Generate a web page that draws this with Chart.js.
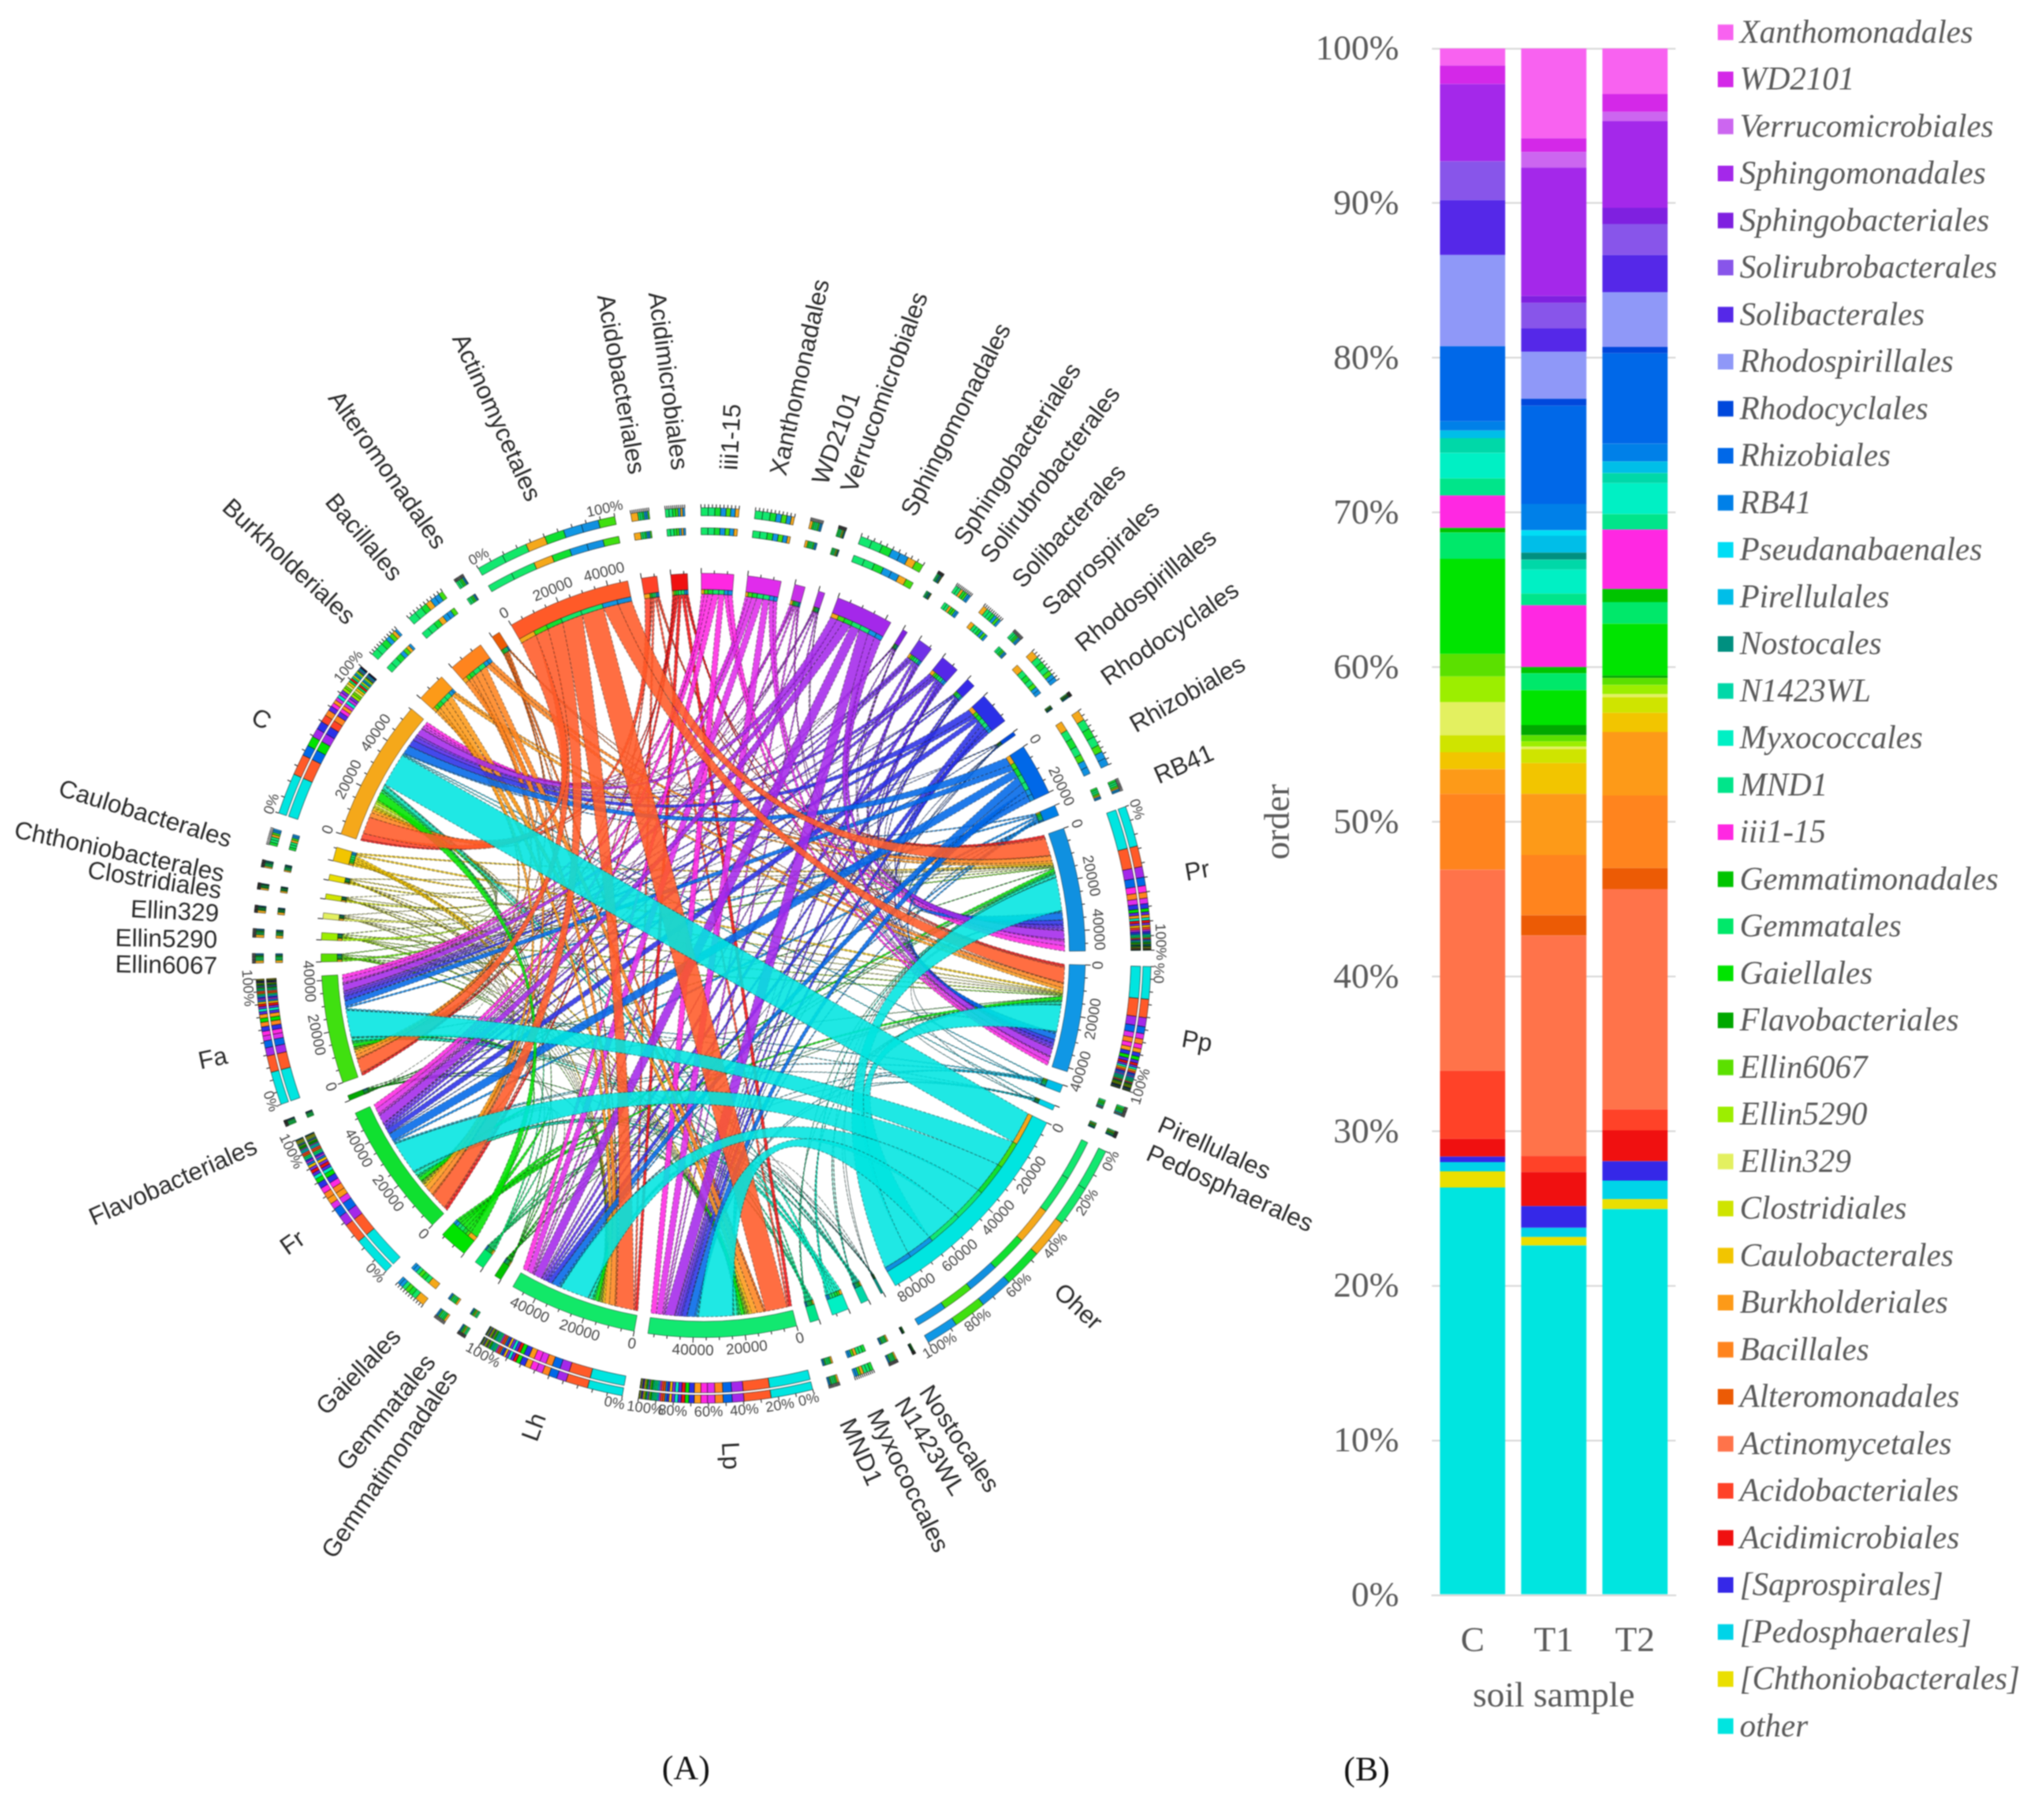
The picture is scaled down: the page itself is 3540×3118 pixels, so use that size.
<!DOCTYPE html>
<html>
<head>
<meta charset="utf-8">
<title>Order composition of soil samples</title>
<script src="https://cdn.jsdelivr.net/npm/chart.js@4/dist/chart.umd.js"></script>
<style>
  html, body { margin: 0; background: #fff; overflow: hidden; }
  body { width: 3540px; height: 3118px; position: relative; }
  canvas { position: absolute; top: 0; filter: blur(1px); }
  #circos { left: 0; }
  #bars { left: 2150px; }
</style>
</head>
<body>
<canvas id="circos" width="2340" height="3118"></canvas>
<canvas id="bars" width="1390" height="3118"></canvas>
<script>
// ---------- panel B: stacked bars ----------
const barSamples = ['C', 'T1', 'T2'];
const seriesNames = ['other', '[Chthoniobacterales]', '[Pedosphaerales]', '[Saprospirales]', 'Acidimicrobiales', 'Acidobacteriales', 'Actinomycetales', 'Alteromonadales', 'Bacillales', 'Burkholderiales', 'Caulobacterales', 'Clostridiales', 'Ellin329', 'Ellin5290', 'Ellin6067', 'Flavobacteriales', 'Gaiellales', 'Gemmatales', 'Gemmatimonadales', 'iii1-15', 'MND1', 'Myxococcales', 'N1423WL', 'Nostocales', 'Pirellulales', 'Pseudanabaenales', 'RB41', 'Rhizobiales', 'Rhodocyclales', 'Rhodospirillales', 'Solibacterales', 'Solirubrobacterales', 'Sphingobacteriales', 'Sphingomonadales', 'Verrucomicrobiales', 'WD2101', 'Xanthomonadales'];
const valuesC = [26.35, 1.05, 0.6, 0.35, 1.15, 4.4, 13.0, 0, 4.9, 1.6, 1.1, 1.1, 2.15, 1.65, 1.45, 0, 6.15, 1.7, 0.3, 2.1, 1.1, 1.65, 0.95, 0, 0.5, 0, 0.6, 4.85, 0, 5.9, 3.55, 2.5, 0, 5.0, 0, 1.2, 1.1];
const valuesT1 = [22.6, 0.55, 0.6, 1.4, 2.2, 1.05, 14.25, 1.3, 3.9, 3.95, 2.0, 0.9, 0.15, 0.35, 0.4, 0.65, 2.25, 1.1, 0.4, 4.0, 0.75, 1.55, 0.65, 0.45, 1.1, 0.35, 1.7, 6.35, 0.45, 3.05, 1.5, 1.65, 0.45, 8.3, 1.0, 0.9, 5.8];
const valuesT2 = [24.95, 0.65, 1.2, 1.25, 2.0, 1.35, 14.25, 1.35, 4.7, 4.1, 1.25, 1.0, 0.2, 0.6, 0.45, 0.15, 3.35, 1.4, 0.85, 3.85, 1.0, 2.0, 0.65, 0, 0.75, 0, 1.15, 5.85, 0.4, 3.55, 2.4, 2.0, 1.05, 5.6, 0.6, 1.15, 2.95];
const seriesColors = ['#00E5E0', '#EADF00', '#00D4E8', '#3528E8', '#F01010', '#FF4228', '#FF734A', '#EC5B05', '#FF841E', '#FD9A18', '#F2C500', '#CFE400', '#E3F060', '#9CEE00', '#5BE000', '#00A800', '#00E400', '#00E86A', '#00C400', '#FF28E2', '#00E58A', '#00F0C4', '#00D8A8', '#009080', '#00BEE8', '#00DDF5', '#0080E8', '#0068E8', '#0048DC', '#8F98F8', '#5528E8', '#8855EA', '#7F20E0', '#A428EA', '#CC66F0', '#D428E8', '#F862F0'];

// ---------- panel A: chord diagram, sectors clockwise ----------
const sectorNames = ['iii1-15', 'Xanthomonadales', 'WD2101', 'Verrucomicrobiales', 'Sphingomonadales', 'Sphingobacteriales', 'Solirubrobacterales', 'Solibacterales', 'Saprospirales', 'Rhodospirillales', 'Rhodocyclales', 'Rhizobiales', 'RB41', 'Pr', 'Pp', 'Pirellulales', 'Pedosphaerales', 'Oher', 'Nostocales', 'N1423WL', 'Myxococcales', 'MND1', 'Lp', 'Lh', 'Gemmatimonadales', 'Gemmatales', 'Gaiellales', 'Fr', 'Flavobacteriales', 'Fa', 'Ellin6067', 'Ellin5290', 'Ellin329', 'Clostridiales', 'Chthoniobacterales', 'Caulobacterales', 'C', 'Burkholderiales', 'Bacillales', 'Alteromonadales', 'Actinomycetales', 'Acidobacteriales', 'Acidimicrobiales'];
const sectorReads = [12500, 13000, 4100, 2550, 22400, 2000, 5900, 7400, 3600, 12500, 1500, 20200, 4100, 47900, 41600, 3100, 2000, 86400, 1000, 3100, 6600, 3600, 57400, 49700, 2800, 3800, 11000, 52300, 2000, 41800, 3100, 2800, 2300, 2000, 2300, 5400, 55300, 11500, 14000, 3300, 47900, 6000, 6400];
const sampleNames = ['C', 'Fa', 'Fr', 'Lh', 'Lp', 'Pp', 'Pr'];
const sampleColors = ['#F5A81A', '#40E010', '#10E030', '#12E868', '#12E870', '#1097E5', '#1090E0'];

// reads per order (order = sectorNames without the samples)
const linkC = [1200, 1000, 900, 300, 2800, 150, 900, 1500, 100, 2600, 200, 3300, 500, 300, 300, 13000, 100, 500, 1000, 600, 400, 700, 3200, 50, 800, 900, 800, 600, 500, 800, 1100, 1900, 50, 6600, 2300, 700];
const linkFa = [1500, 1700, 500, 300, 2700, 250, 800, 900, 500, 1500, 200, 2300, 600, 500, 300, 11000, 200, 400, 900, 400, 400, 500, 1300, 300, 300, 300, 200, 200, 200, 700, 1300, 1500, 500, 5500, 500, 800];
const linkFr = [1900, 2000, 600, 400, 3400, 300, 900, 1000, 600, 1900, 200, 3000, 700, 500, 300, 13000, 200, 500, 1100, 600, 400, 600, 1500, 400, 400, 300, 300, 300, 300, 900, 2000, 2000, 600, 6500, 600, 1000];
const linkLh = [2400, 2500, 600, 400, 3700, 350, 1000, 1100, 700, 2100, 200, 3200, 700, 500, 300, 13500, 200, 500, 1100, 600, 500, 600, 1600, 400, 500, 400, 300, 300, 400, 900, 2200, 2600, 700, 8500, 700, 1200];
const linkLp = [2200, 2500, 600, 400, 3900, 350, 1000, 1100, 700, 1800, 300, 3000, 700, 600, 400, 14000, 100, 500, 1100, 600, 500, 600, 1300, 400, 500, 400, 300, 300, 400, 900, 2200, 2700, 700, 9000, 700, 1200];
const linkPp = [1500, 1800, 400, 200, 3000, 300, 700, 1000, 500, 1300, 200, 2300, 500, 400, 200, 10800, 100, 400, 700, 400, 300, 400, 1200, 250, 300, 300, 200, 150, 300, 600, 1400, 1700, 400, 6100, 600, 800];
const linkPr = [1800, 1500, 500, 150, 2900, 300, 600, 800, 500, 1300, 200, 2300, 400, 300, 200, 11100, 100, 300, 700, 400, 300, 400, 900, 200, 300, 200, 200, 150, 200, 600, 800, 1600, 350, 5700, 600, 700];

// name placement around the circle: angle clockwise from the top, text rotation
const labelDeg = [3.2, 9, 14, 17.5, 25, 32, 35.7, 40.3, 45, 50.7, 55.6, 62, 68.6, 80.4, 100, 110.4, 114, 133.3, 153, 156.2, 159.6, 163, 177, 199.6, 211, 214, 219, 234.9, 246.9, 258, 268.6, 271.7, 274.8, 277.5, 279.5, 283.6, 298, 313.5, 320.9, 327.2, 339.5, 352, 357.1];
const labelRot = [-87, -77.5, -70, -70, -63, -57, -53, -48, -44, -40, -35, -30, -24, -10, 10, 24, 24, 43, 56, 58, 64, 66, 87, -70, -56, -51, -46, -35, -24, -12, 1, 1, 3, 9, 12, 17, 28, 43, 50, 55, 65.5, 80, 82.5];

// a few orders are drawn in another shade on the circle than in the bars
const circleShades = {
    Xanthomonadales: '#E02CEC',
    WD2101: '#C830E8',
    Verrucomicrobiales: '#B030E8',
    Solirubrobacterales: '#7030E8',
    Rhodospirillales: '#2A30E8',
    Actinomycetales: '#FF5A28'
};

const GAP_READS = 5317;
const CLEAR = 'rgba(0,0,0,0)';
const PERCENT_FULL = ['Lp', 'Oher'];
const PERCENT_ENDS = ['C', 'Fa', 'Fr', 'Lh', 'Pp', 'Pr', 'Actinomycetales'];
const READ_LABELS = ['C', 'Fa', 'Fr', 'Lh', 'Lp', 'Pp', 'Pr', 'Oher', 'Actinomycetales', 'Rhizobiales'];
const BEZIER = 0.2;  // control point radius of the ribbons, share of the circle radius

const sampleLinks = [linkC, linkFa, linkFr, linkLh, linkLp, linkPp, linkPr];
const orderNames = sectorNames.filter(n => !sampleNames.includes(n));
const isSample = name => sampleNames.includes(name);
const sum = arr => arr.reduce((a, b) => a + b, 0);

function orderColor(name) {
    if (circleShades[name]) return circleShades[name];
    if (name === 'Oher') return seriesColors[0];
    const idx = seriesNames.findIndex(s => s.replace(/[\[\]]/g, '') === name);
    return seriesColors[idx];
}

function sectorColor(name) {
    return isSample(name) ? sampleColors[sampleNames.indexOf(name)] : orderColor(name);
}

// parts of a sector: a sample is split by order, an order by sample
function sectorParts(name) {
    if (isSample(name)) {
        const col = sampleLinks[sampleNames.indexOf(name)];
        return orderNames.map((o, k) => ({ value: col[k], color: orderColor(o) }));
    }
    const k = orderNames.indexOf(name);
    return sampleNames.map((s, j) => ({ value: sampleLinks[j][k], color: sampleColors[j] }));
}

// one ring of the doughnut, with a gap slice after each sector
function buildRing(sliceFn) {
    const data = [], colors = [], borders = [];
    sectorNames.forEach((name, i) => {
        sliceFn(name, sectorReads[i]).forEach(s => {
            data.push(s.value);
            colors.push(s.color);
            borders.push(s.color === CLEAR ? CLEAR : s.border || CLEAR);
        });
        data.push(GAP_READS);
        colors.push(CLEAR);
        borders.push(CLEAR);
    });
    return { data, backgroundColor: colors, borderColor: borders };
}

function scaledParts(name, reads, sorted) {
    let parts = sectorParts(name);
    if (sorted) parts = parts.slice().sort((a, b) => b.value - a.value);
    const total = sum(parts.map(p => p.value));
    return parts.map(p => ({ value: p.value / total * reads, color: p.color, border: 'rgba(0,0,0,0.75)' }));
}

const ringStack = (name, reads) => scaledParts(name, reads, true);
const ringSampleOnly = (name, reads) => isSample(name) ? ringStack(name, reads) : [{ value: reads, color: CLEAR }];
const ringOrderOnly = (name, reads) => isSample(name) ? [{ value: reads, color: CLEAR }] : ringStack(name, reads);
const ringMain = (name, reads) => [{ value: reads, color: sectorColor(name), border: 'rgba(0,0,0,0.55)' }];
const ringBand = (name, reads) => isSample(name) ? [{ value: reads, color: CLEAR }] : scaledParts(name, reads, false);
const spacer = weight => ({ data: [1], backgroundColor: [CLEAR], borderColor: [CLEAR], weight });

const MAIN_RING = 5;

function withWeight(ring, weight, borderWidth) {
    return Object.assign(ring, { weight, borderWidth });
}

function buildLinks(mainArcs) {
    const links = [];
    const sectorAngle = name => mainArcs[sectorNames.indexOf(name) * 2];
    const orderPos = {};
    const samplePos = {};
    orderNames.forEach((order, k) => {
        const arc = sectorAngle(order);
        const rowTotal = sum(sampleLinks.map(col => col[k]));
        let cursor = arc.startAngle;
        sampleNames.forEach((s, j) => {
            const w = sampleLinks[j][k] / rowTotal * (arc.endAngle - arc.startAngle);
            orderPos[k + '_' + j] = [cursor, cursor + w];
            cursor += w;
        });
    });
    sampleNames.forEach((s, j) => {
        const arc = sectorAngle(s);
        const colTotal = sum(sampleLinks[j]);
        let cursor = arc.startAngle;
        // samples take the orders in the opposite sense of the circle
        for (let k = orderNames.length - 1; k >= 0; k--) {
            const w = sampleLinks[j][k] / colTotal * (arc.endAngle - arc.startAngle);
            samplePos[k + '_' + j] = [cursor, cursor + w];
            cursor += w;
        }
    });
    orderNames.forEach((order, k) => {
        sampleNames.forEach((s, j) => {
            links.push({
                a: orderPos[k + '_' + j],
                b: samplePos[k + '_' + j],
                color: orderColor(order),
                value: sampleLinks[j][k]
            });
        });
    });
    return links.sort((p, q) => p.value - q.value);
}

// ribbon edge from angle a to angle b: nearly straight across the circle,
// pulled to the fixed bezier radius when the two ends are closer together
function ribbonEdge(ctx, cx, cy, r, a, b) {
    const mx = Math.cos(a) + Math.cos(b);
    const my = Math.sin(a) + Math.sin(b);
    const len = Math.hypot(mx, my) || 1;
    const c = r * Math.min(len / 2, BEZIER);
    ctx.quadraticCurveTo(cx + c * mx / len, cy + c * my / len, cx + r * Math.cos(b), cy + r * Math.sin(b));
}

const ribbonPlugin = {
    id: 'ribbons',
    beforeDatasetsDraw(chart) {
        const arcs = chart.getDatasetMeta(MAIN_RING).data;
        const cx = arcs[0].x, cy = arcs[0].y;
        const r = chart.getDatasetMeta(MAIN_RING + 1).data[0].innerRadius;
        const ctx = chart.ctx;
        ctx.save();
        buildLinks(arcs).forEach(link => {
            const [a0, a1] = link.a;
            const [b0, b1] = link.b;
            ctx.beginPath();
            ctx.arc(cx, cy, r, a0, a1);
            ribbonEdge(ctx, cx, cy, r, a1, b0);
            ctx.arc(cx, cy, r, b0, b1);
            ribbonEdge(ctx, cx, cy, r, b1, a0);
            ctx.closePath();
            ctx.globalAlpha = 0.88;
            ctx.fillStyle = link.color;
            ctx.fill();
            ctx.globalAlpha = 1;
            ctx.setLineDash([5, 3]);
            ctx.lineWidth = 1.1;
            ctx.strokeStyle = 'rgba(30,30,30,0.6)';
            ctx.stroke();
        });
        ctx.restore();
    }
};

function tangentText(ctx, cx, cy, r, angle, text) {
    ctx.save();
    ctx.translate(cx + r * Math.cos(angle), cy + r * Math.sin(angle));
    ctx.rotate(Math.sin(angle) > 0 ? angle - Math.PI / 2 : angle + Math.PI / 2);
    ctx.fillText(text, 0, 0);
    ctx.restore();
}

function percentAngle(arc, p) {
    const inset = p === 0 ? 0.014 : (p === 100 ? -0.018 : 0);
    return arc.startAngle + (arc.endAngle - arc.startAngle) * p / 100 + inset;
}

const ringTextPlugin = {
    id: 'ringText',
    afterDatasetsDraw(chart) {
        const ctx = chart.ctx;
        const arcs = chart.getDatasetMeta(MAIN_RING).data;
        const cx = arcs[0].x, cy = arcs[0].y;
        const outerR = chart.getDatasetMeta(0).data[0].outerRadius;
        const mainR = arcs[0].outerRadius;
        ctx.save();
        ctx.textAlign = 'center';
        ctx.textBaseline = 'middle';
        sectorNames.forEach((name, i) => {
            const arc = arcs[i * 2];
            const span = arc.endAngle - arc.startAngle;
            const reads = sectorReads[i];

            // read ticks on the sector arc
            ctx.strokeStyle = '#222';
            ctx.lineWidth = 1.5;
            for (let v = 0; v <= reads; v += 5000) {
                const a = arc.startAngle + span * v / reads;
                const len = v % 20000 === 0 ? 9 : 5;
                ctx.beginPath();
                ctx.moveTo(cx + mainR * Math.cos(a), cy + mainR * Math.sin(a));
                ctx.lineTo(cx + (mainR + len) * Math.cos(a), cy + (mainR + len) * Math.sin(a));
                ctx.stroke();
            }
            // comb on the outer ring, one tooth per 10%
            for (let p = 0; p <= 10; p++) {
                const a = arc.startAngle + span * p / 10;
                ctx.beginPath();
                ctx.moveTo(cx + outerR * Math.cos(a), cy + outerR * Math.sin(a));
                ctx.lineTo(cx + (outerR + 6) * Math.cos(a), cy + (outerR + 6) * Math.sin(a));
                ctx.stroke();
            }

            ctx.fillStyle = '#444';
            if (READ_LABELS.includes(name)) {
                ctx.font = '26px "Liberation Sans"';
                for (let v = 0; v <= reads; v += 20000) {
                    tangentText(ctx, cx, cy, mainR + 23, arc.startAngle + span * v / reads, String(v));
                }
            }
            ctx.font = '25px "Liberation Sans"';
            if (PERCENT_FULL.includes(name)) {
                [0, 20, 40, 60, 80, 100].forEach(p => {
                    tangentText(ctx, cx, cy, outerR + 16, percentAngle(arc, p), p + '%');
                });
            } else if (PERCENT_ENDS.includes(name)) {
                [0, 100].forEach(p => {
                    tangentText(ctx, cx, cy, outerR + 16, percentAngle(arc, p), p + '%');
                });
            }

            // sector names
            const deg = labelDeg[i];
            const rad = (deg - 90) * Math.PI / 180;
            const r = isSample(name) ? 868 : 842;
            ctx.save();
            ctx.translate(cx + r * Math.cos(rad), cy + r * Math.sin(rad));
            ctx.rotate(labelRot[i] * Math.PI / 180);
            ctx.font = '43px "Liberation Sans"';
            ctx.fillStyle = '#2a2a2a';
            ctx.textAlign = isSample(name) ? 'center' : (deg < 180 ? 'left' : 'right');
            ctx.fillText(name, 0, 0);
            ctx.restore();
        });
        ctx.font = '60px "Liberation Serif"';
        ctx.fillStyle = '#111';
        ctx.textAlign = 'center';
        ctx.fillText('(A)', 1188, 3066);
        ctx.restore();
    }
};

new Chart(document.getElementById('circos'), {
    type: 'doughnut',
    data: {
        datasets: [
            withWeight(buildRing(ringStack), 14, 0.9),
            spacer(4),
            withWeight(buildRing(ringSampleOnly), 17, 0.9),
            withWeight(buildRing(ringOrderOnly), 12, 0.9),
            spacer(67),
            withWeight(buildRing(ringMain), 28, 1),
            withWeight(buildRing(ringBand), 8, 0.8)
        ]
    },
    options: {
        responsive: false,
        animation: false,
        devicePixelRatio: 1,
        rotation: -0.3,
        cutout: 626,
        layout: { padding: { left: 442, top: 879, right: 346, bottom: 687 } },
        plugins: { legend: { display: false }, tooltip: { enabled: false } },
        events: []
    },
    plugins: [ribbonPlugin, ringTextPlugin]
});

// custom legend so the swatch and text gaps follow the picture
const legendPlugin = {
    id: 'stackLegend',
    afterDraw(chart) {
        const ctx = chart.ctx;
        ctx.save();
        ctx.textBaseline = 'middle';
        seriesNames.slice().reverse().forEach((name, i) => {
            const y = 56 + i * 81.5;
            ctx.fillStyle = seriesColors[seriesNames.length - 1 - i];
            ctx.fillRect(825, y - 13.5, 27, 27);
            ctx.fillStyle = '#595959';
            ctx.font = 'italic 56px "Liberation Serif"';
            ctx.fillText(name, 863, y + 3);
        });
        ctx.textAlign = 'center';
        ctx.fillStyle = '#111';
        ctx.font = '60px "Liberation Serif"';
        ctx.fillText('(B)', 217, 3068);
        ctx.restore();
    }
};

new Chart(document.getElementById('bars'), {
    type: 'bar',
    data: {
        labels: barSamples,
        datasets: seriesNames.map((name, i) => ({
            label: name,
            data: [valuesC[i], valuesT1[i], valuesT2[i]],
            backgroundColor: seriesColors[i],
            borderWidth: 0,
            barPercentage: 0.803,
            categoryPercentage: 1
        }))
    },
    options: {
        responsive: false,
        animation: false,
        devicePixelRatio: 1,
        layout: { padding: { top: 84, right: 638, bottom: 141, left: 0 } },
        plugins: { legend: { display: false }, tooltip: { enabled: false } },
        events: [],
        scales: {
            x: {
                stacked: true,
                afterFit: s => { s.height = 214; },
                grid: { display: false },
                border: { color: '#D9D9D9', width: 3 },
                ticks: { color: '#595959', font: { family: '"Liberation Serif"', size: 62 }, padding: 36, maxRotation: 0 },
                title: { display: true, text: 'soil sample', color: '#595959', font: { family: '"Liberation Serif"', size: 62 }, padding: { top: 0, bottom: 0 } }
            },
            y: {
                stacked: true,
                min: 0,
                max: 100,
                afterFit: s => { s.width = 330; },
                grid: { color: '#D9D9D9', lineWidth: 3, tickLength: 57, tickColor: CLEAR },
                border: { display: false },
                ticks: { stepSize: 10, color: '#595959', padding: 0, labelOffset: 3, font: { family: '"Liberation Serif"', size: 62 }, callback: v => v + '%' },
                title: { display: true, text: 'order', color: '#595959', font: { family: '"Liberation Serif"', size: 62 }, padding: { top: 29, bottom: 0 } }
            }
        }
    },
    plugins: [legendPlugin]
});
</script>
</body>
</html>
